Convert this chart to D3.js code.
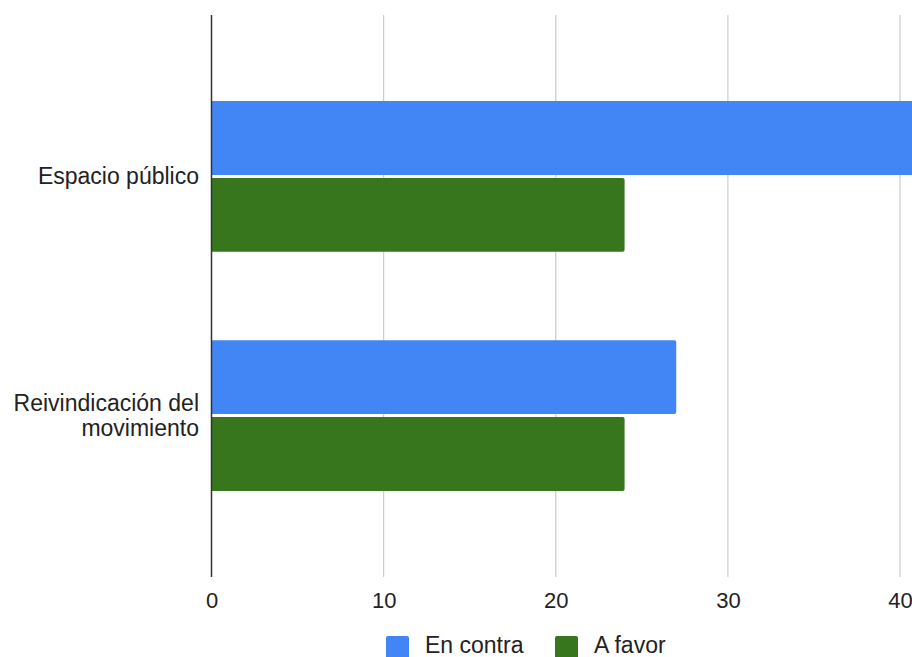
<!DOCTYPE html>
<html>
<head>
<meta charset="utf-8">
<script src="https://cdn.jsdelivr.net/npm/d3@7"></script>
<style>
  body { margin: 0; background: #fff; overflow: hidden; }
  text { font-family: "Liberation Sans", Arial, sans-serif; fill: #222; }
</style>
</head>
<body>
<div id="chart"></div>
<script>
// data
var categories = ["Espacio público", "Reivindicación del movimiento"];
var categoryLines = [["Espacio público"], ["Reivindicación del", "movimiento"]];
var series = ["En contra", "A favor"];
var enContra = [42, 27];
var aFavor = [24, 24];
var xTicks = [0, 10, 20, 30, 40];
var colors = ["#4285f4", "#38761d"];

var width = 912, height = 657;
var svg = d3.select("#chart").append("svg")
  .attr("width", width)
  .attr("height", height);

var x = d3.scaleLinear()
  .domain([0, 40])
  .range([211.5, 900]);

var y = d3.scaleBand()
  .domain(categories)
  .range([15, 577])
  .paddingInner(0.37)
  .paddingOuter(0.36);

var ySub = d3.scaleBand()
  .domain(series)
  .range([0, y.bandwidth()])
  .paddingInner(0.04);

// gridlines
svg.append("g")
  .selectAll("line")
  .data(xTicks.slice(1))
  .enter().append("line")
    .attr("x1", function(d) { return x(d); })
    .attr("x2", function(d) { return x(d); })
    .attr("y1", 15)
    .attr("y2", 577)
    .attr("stroke", "#cccccc")
    .attr("stroke-width", 1.2);

// bars
var rows = categories.map(function(c, i) {
  return { cat: c, vals: [enContra[i], aFavor[i]] };
});
var grp = svg.append("g").selectAll("g")
  .data(rows)
  .enter().append("g")
    .attr("transform", function(d) { return "translate(0," + y(d.cat) + ")"; });

grp.selectAll("rect")
  .data(function(d) { return d.vals.map(function(v, j) { return { s: series[j], v: v, j: j }; }); })
  .enter().append("path")
    .attr("fill", function(d) { return colors[d.j]; })
    .attr("d", function(d) {
      var x0 = x(0), x1 = x(d.v), y0 = ySub(d.s), h = ySub.bandwidth(), r = 2;
      return "M" + x0 + "," + y0 + "H" + (x1 - r) + "Q" + x1 + "," + y0 + " " + x1 + "," + (y0 + r) +
        "V" + (y0 + h - r) + "Q" + x1 + "," + (y0 + h) + " " + (x1 - r) + "," + (y0 + h) + "H" + x0 + "Z";
    });

// zero axis line
svg.append("line")
  .attr("x1", x(0)).attr("x2", x(0))
  .attr("y1", 15).attr("y2", 577)
  .attr("stroke", "#333")
  .attr("stroke-width", 1.5);

// x tick labels
var xAxis = svg.append("g")
  .attr("transform", "translate(0,577)")
  .call(d3.axisBottom(x).tickValues(xTicks).tickSize(0).tickPadding(15));
xAxis.select(".domain").remove();
xAxis.selectAll("text")
  .attr("font-size", 22)
  .attr("font-family", "'Liberation Sans', Arial, sans-serif")
  .attr("fill", "#333");

// category labels
var lab = svg.append("g").selectAll("text")
  .data(categories)
  .enter().append("text")
    .attr("text-anchor", "end")
    .attr("font-size", 23)
    .attr("fill", "#222")
    .attr("y", function(d) { return y(d) + y.bandwidth() / 2; });
lab.each(function(d, i) {
  var lines = categoryLines[i];
  var t = d3.select(this);
  lines.forEach(function(l, k) {
    t.append("tspan")
      .attr("x", 199)
      .attr("dy", k === 0 ? (0.35 - (lines.length - 1) * 0.55) + "em" : "1.1em")
      .text(l);
  });
});

// legend
var leg = svg.append("g").attr("transform", "translate(386,636)");
var legX = [0, 169];
series.forEach(function(s, i) {
  leg.append("rect")
    .attr("x", legX[i]).attr("y", 0)
    .attr("width", 23).attr("height", 23)
    .attr("rx", 2)
    .attr("fill", colors[i]);
  leg.append("text")
    .attr("x", legX[i] + 39).attr("y", 17)
    .attr("font-size", 23)
    .attr("fill", "#222")
    .text(s);
});
</script>
</body>
</html>
